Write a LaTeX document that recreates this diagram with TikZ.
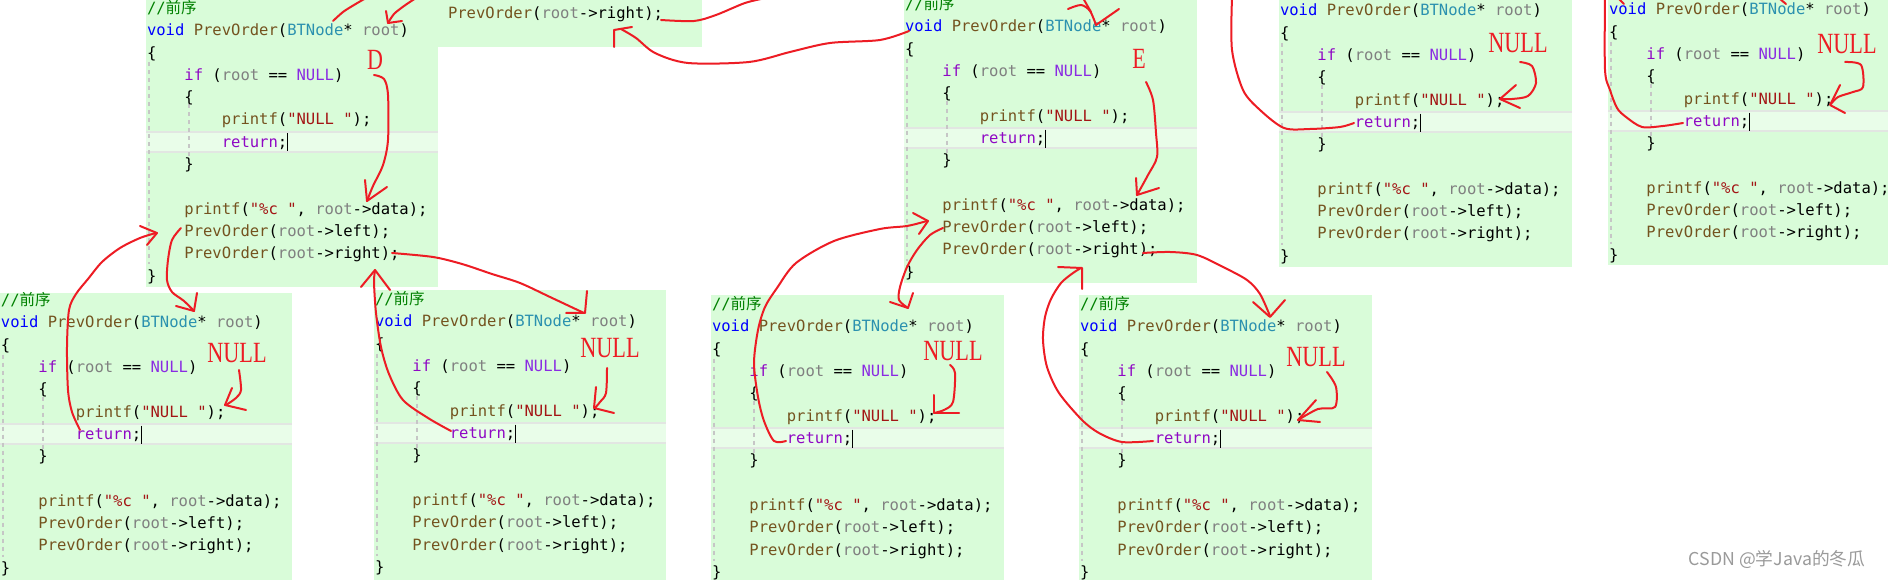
\documentclass[tikz,border=0pt]{standalone}
\usepackage{fontspec}
\newfontfamily\monof{DejaVu Sans Mono}
\newfontfamily\cjkf{Noto Sans CJK SC}
\newfontfamily\labf{Liberation Serif}
\definecolor{bg}{HTML}{D9FCD9}
\definecolor{bandfill}{HTML}{E9FDE9}
\definecolor{bandline}{HTML}{E2E6E2}
\definecolor{guide}{HTML}{C6C6C6}
\definecolor{cmt}{HTML}{008000}
\definecolor{kw}{HTML}{0000FF}
\definecolor{fn}{HTML}{74531F}
\definecolor{ty}{HTML}{2B91AF}
\definecolor{par}{HTML}{808080}
\definecolor{ctl}{HTML}{8F08C4}
\definecolor{mac}{HTML}{8A2BE2}
\definecolor{str}{HTML}{A31515}
\definecolor{tx}{HTML}{000000}
\definecolor{penred}{HTML}{ED1C24}
\definecolor{wm}{HTML}{9A9A9A}
\tikzset{
  code/.style={anchor=base west, inner sep=0pt, outer sep=0pt, font=\monof\fontsize{11.65pt}{14pt}\selectfont},
  pen/.style={draw=penred, line width=1.5pt, line cap=round, line join=round},
  lab/.style={inner sep=0pt, text=penred, font=\labf\fontsize{22pt}{24pt}\selectfont},
  guideline/.style={draw=guide, line width=1.1pt, dash pattern=on 3pt off 3pt},
}
% #1 name, #2 left, #3 top, #4 right, #5 bottom, #6 y of first text line, #7 comment line visible (1/0)
\newcommand\codebox[7]{%
  \fill[bg] (#2,#3) rectangle (#4,#5);
  \begin{scope}[shift={(#2+1,#6)}]
    \fill[bandfill] (-1,123.4) rectangle (#4-#2-1,143.4);
    \draw[draw=bandline, line width=1.5pt] (-1,123.4) -- (#4-#2-1,123.4);
    \draw[draw=bandline, line width=1.5pt] (-1,143.4) -- (#4-#2-1,143.4);
    \draw[guideline] (2,54) -- (2,256);
    \draw[guideline] (42,96) -- (42,149);
    \ifnum#7=1
    \node[code] (#1-0) at (0,5) {\color{cmt}//{\cjkf 前序}};
    \fi
    \node[code] (#1-1) at (0,27.3) {\color{kw}void \color{fn}PrevOrder\color{tx}(\color{ty}BTNode\color{tx}* \color{par}root\color{tx})};
    \node[code] (#1-2) at (0,49.6) {\color{tx}\{};
    \node[code] (#1-3) at (37.4,71.9) {\color{ctl}if \color{tx}(\color{par}root \color{tx}== \color{mac}NULL\color{tx})};
    \node[code] (#1-4) at (37.4,94.2) {\color{tx}\{};
    \node[code] (#1-5) at (74.8,116.5) {\color{fn}printf\color{tx}(\color{str}"NULL "\color{tx});};
    \node[code] (#1-6) at (74.8,138.8) {\color{ctl}return\color{tx};};
    \draw[tx, line width=1pt] (140.5,125) -- (140.5,143);
    \node[code] (#1-7) at (37.4,161.1) {\color{tx}\}};
    \node[code] (#1-9) at (37.4,205.7) {\color{fn}printf\color{tx}(\color{str}"\%c "\color{tx}, \color{par}root\color{tx}->data);};
    \node[code] (#1-10) at (37.4,228) {\color{fn}PrevOrder\color{tx}(\color{par}root\color{tx}->left);};
    \node[code] (#1-11) at (37.4,250.3) {\color{fn}PrevOrder\color{tx}(\color{par}root\color{tx}->right);};
    \node[code] (#1-12) at (0,272.6) {\color{tx}\}};
  \end{scope}
}
\begin{document}
\begin{tikzpicture}[x=0.75pt,y=-0.75pt]
\useasboundingbox (0,0) rectangle (1888,580);
\fill[white] (0,0) rectangle (1888,580);
\clip (0,0) rectangle (1888,580);

% strip of the calling frame
\fill[bg] (438,0) rectangle (702,47);
\node[code] (strip) at (448,19) {\color{fn}PrevOrder\color{tx}(\color{par}root\color{tx}->right);};

\codebox{A}{146}{0}{438}{287}{8.5}{1}
\codebox{B}{904}{0}{1197}{283}{4.7}{1}
\codebox{C}{1279}{0}{1572}{267}{-11.3}{0}
\codebox{D}{1608}{0}{1888}{265}{-12.3}{0}
\codebox{E}{0}{293}{292}{580}{300.7}{1}
\codebox{F}{374}{290}{666}{580}{299.7}{1}
\codebox{G}{711}{295}{1004}{580}{304.7}{1}
\codebox{H}{1079}{295}{1372}{580}{304.7}{1}

% labels
\node[lab] (labD) at (375,60) {\scalebox{0.75}[1]{D}};
\node[lab] (labE) at (1139,59) {\scalebox{0.75}[1]{E}};
\node[lab] (nullC) at (1518,43) {\scalebox{0.76}[1]{NULL}};
\node[lab] (nullD) at (1847,44) {\scalebox{0.76}[1]{NULL}};
\node[lab] (nullE) at (237,353) {\scalebox{0.76}[1]{NULL}};
\node[lab] (nullF) at (610,348) {\scalebox{0.76}[1]{NULL}};
\node[lab] (nullG) at (953,351) {\scalebox{0.76}[1]{NULL}};
\node[lab] (nullH) at (1316,357) {\scalebox{0.76}[1]{NULL}};

% top of A (cut-off strokes)
\draw[pen] plot[smooth] coordinates {(333,21) (343,12) (354,5) (366,-2)};
\draw[pen] plot[smooth] coordinates {(416,-2) (404,6) (394,14) (388,23)};
\draw[pen] (386,11) -- (388,23) -- (402,21);

% D arrow
\draw[pen] plot[smooth] coordinates {(374,75) (384,79) (388,95) (388,140) (383,165) (373,186) (367,201)};
\draw[pen] (365,180) -- (367,201) -- (387,187);

% E return -> A left
\draw[pen] plot[smooth] coordinates {(80,430) (72,412) (68,390) (67,347) (69,310) (76,294) (88,279) (102,262) (120,248) (140,238) (156,233)};
\draw[pen] (140,226) -- (157,233) -- (147,245);

% A left -> E
\draw[pen] plot[smooth] coordinates {(181,228) (172,240) (168,260) (167,280) (172,292) (184,301) (194,311)};
\draw[pen] (176,306) -- (194,311) -- (197,293);

% A right -> F
\draw[pen] plot[smooth] coordinates {(392,253) (433,257) (462,264) (492,274) (520,283) (550,297) (584,313)};
\draw[pen] (566,313) -- (585,313) -- (587,291);

% F return -> A right
\draw[pen] plot[smooth] coordinates {(451,431) (428,418) (403,400) (389,374) (381,347) (376,313) (374,282) (375,271)};
\draw[pen] (361,287) -- (375,270) -- (390,290);

% strip out
\draw[pen] plot[smooth] coordinates {(661,20) (694,21) (716,15) (745,3) (766,-2)};
% B return -> strip right
\draw[pen] plot[smooth] coordinates {(909,31) (880,40) (830,43) (790,52) (749,62) (688,63) (655,53) (636,38) (621,29)};
\draw[pen] (614,47) -- (614,30) -- (632,27);

% top of B
\draw[pen] plot[smooth] coordinates {(1068,9) (1081,5) (1090,11) (1096,25)};
\draw[pen] (1083,-2) -- (1091,12);
\draw[pen] (1096,25) -- (1119,9);

% E arrow
\draw[pen] plot[smooth] coordinates {(1146,82) (1153,100) (1156,133) (1157,157) (1148,175) (1137,195)};
\draw[pen] (1136,178) -- (1137,195) -- (1159,188);

% G return -> B left
\draw[pen] plot[smooth] coordinates {(786,441) (774,441) (764,421) (758,397) (754,363) (758,330) (765,307) (777,288) (796,263) (834,241) (880,229) (907,226) (927,221)};
\draw[pen] (913,213) -- (928,221) -- (919,234);

% B left -> G
\draw[pen] plot[smooth] coordinates {(943,228) (930,235) (917,250) (907,267) (900,287) (899,300) (908,308)};
\draw[pen] (890,302) -- (908,308) -- (913,293);

% B right -> H
\draw[pen] plot[smooth] coordinates {(1143,253) (1170,252) (1197,255) (1223,267) (1247,280) (1260,294) (1270,316)};
\draw[pen] (1253,302) -- (1270,317) -- (1285,300);

% H return -> B right
\draw[pen] plot[smooth] coordinates {(1153,441) (1122,442) (1099,433) (1082,420) (1059,393) (1047,367) (1043,340) (1045,317) (1051,299) (1061,283) (1073,273) (1081,268)};
\draw[pen] (1058,267) -- (1082,268) -- (1082,289);

% C return line
\draw[pen] plot[smooth] coordinates {(1232,-2) (1232,50) (1243,90) (1260,110) (1284,128) (1310,129) (1340,127) (1354,123)};
% C NULL arrow
\draw[pen] plot[smooth] coordinates {(1520,62) (1532,66) (1536,83) (1528,96) (1512,99) (1501,99)};
\draw[pen] (1516,85) -- (1500,99) -- (1520,108);

% D return line
\draw[pen] plot[smooth] coordinates {(1605,-2) (1605,70) (1610,90) (1617,108) (1626,117) (1642,127) (1663,126) (1683,123)};
\draw[pen] (1619,-1) -- (1624,4);
\draw[pen] (1780,-1) -- (1786,4);
% D NULL arrow
\draw[pen] plot[smooth] coordinates {(1845,62) (1861,65) (1863,87) (1853,92) (1838,97) (1831,104)};
\draw[pen] (1840,85) -- (1830,105) -- (1845,113);

% bottom NULL arrows
\draw[pen] plot[smooth] coordinates {(239,370) (241,390) (236,398) (226,405)};
\draw[pen] (232,388) -- (225,405) -- (246,410);
\draw[pen] plot[smooth] coordinates {(607,368) (606,393) (600,402) (595,408)};
\draw[pen] (596,387) -- (594,408) -- (614,413);
\draw[pen] plot[smooth] coordinates {(950,365) (955,373) (953,402) (944,410) (934,413)};
\draw[pen] (934,395) -- (934,413) -- (959,413);
\draw[pen] plot[smooth] coordinates {(1327,372) (1336,387) (1335,407) (1318,409) (1298,420)};
\draw[pen] (1316,400) -- (1298,420) -- (1320,422);

% watermark
\node[inner sep=0pt, text=wm, font=\cjkf\fontsize{13.3pt}{15pt}\selectfont] (wmk) at (1777,560) {CSDN @学Java的冬瓜};
\end{tikzpicture}
\end{document}
